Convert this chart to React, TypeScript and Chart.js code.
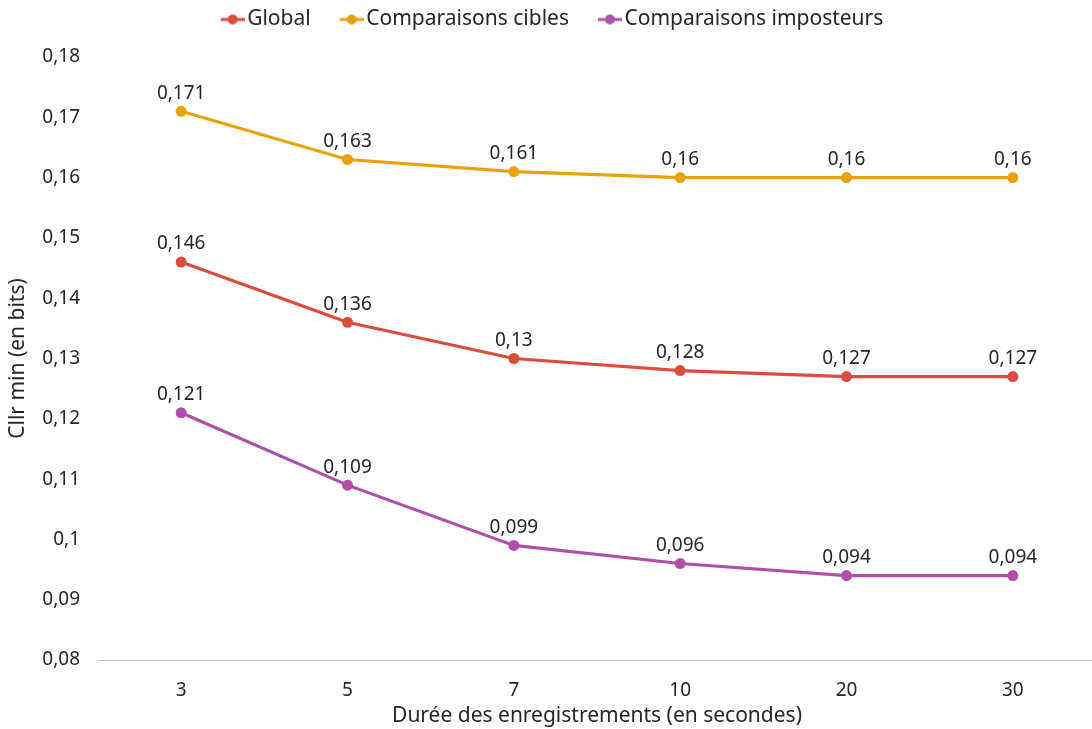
import React, { useEffect, useRef } from "react";
import { Chart, registerables } from "chart.js";

Chart.register(...registerables);

const categories = ["3", "5", "7", "10", "20", "30"];
const globalValues = [0.146, 0.136, 0.13, 0.128, 0.127, 0.127];
const ciblesValues = [0.171, 0.163, 0.161, 0.16, 0.16, 0.16];
const imposteursValues = [0.121, 0.109, 0.099, 0.096, 0.094, 0.094];
const seriesNames = ["Global", "Comparaisons cibles", "Comparaisons imposteurs"];
const seriesColors = ["#DD4B3C", "#E9A20C", "#B04FAA"];
const yTitle = "Cllr min (en bits)";
const xTitle = "Durée des enregistrements (en secondes)";

const FONT = "'Noto Sans', 'Open Sans', sans-serif";
const TEXT = "#262626";

const fmt = (v: number) => String(Number(v.toFixed(3))).replace(".", ",");

function makeMarker(color: string): HTMLCanvasElement {
  const c = document.createElement("canvas");
  c.width = 54;
  c.height = 14;
  const ctx = c.getContext("2d")!;
  ctx.strokeStyle = color;
  ctx.lineWidth = 3;
  ctx.beginPath();
  ctx.moveTo(30, 7);
  ctx.lineTo(54, 7);
  ctx.stroke();
  ctx.fillStyle = color;
  ctx.beginPath();
  ctx.arc(42, 7, 5, 0, Math.PI * 2);
  ctx.fill();
  return c;
}

const valueLabels = {
  id: "valueLabels",
  afterDatasetsDraw(chart: any) {
    const ctx = chart.ctx;
    ctx.save();
    ctx.font = `19px ${FONT}`;
    ctx.fillStyle = TEXT;
    ctx.textAlign = "center";
    ctx.textBaseline = "middle";
    chart.data.datasets.forEach((ds: any, i: number) => {
      const meta = chart.getDatasetMeta(i);
      meta.data.forEach((el: any, j: number) => {
        ctx.fillText(fmt(ds.data[j]), el.x, el.y - 18);
      });
    });
    ctx.restore();
  },
};

const legendSpace = {
  id: "legendSpace",
  beforeUpdate(chart: any) {
    const lg = chart.legend;
    if (lg && !lg._patched) {
      const orig = lg.fit.bind(lg);
      lg.fit = function () {
        orig();
        this.height += 17;
        if (this.lineWidths && this.lineWidths.length) this.lineWidths[0] += 14;
      };
      lg._patched = true;
    }
  },
};

export default function App() {
  const ref = useRef<HTMLCanvasElement>(null);
  useEffect(() => {
    const markers = seriesColors.map(makeMarker);
    const allValues = [globalValues, ciblesValues, imposteursValues];
    const chart = new Chart(ref.current!, {
      type: "line",
      data: {
        labels: categories,
        datasets: allValues.map((vals, i) => ({
          label: seriesNames[i],
          data: vals,
          borderColor: seriesColors[i],
          backgroundColor: seriesColors[i],
          pointBackgroundColor: seriesColors[i],
          pointBorderColor: seriesColors[i],
          pointStyle: "circle",
          pointRadius: 5.5,
          pointBorderWidth: 0,
          borderWidth: 3.2,
          tension: 0,
        })),
      },
      options: {
        responsive: false,
        animation: false,
        layout: { autoPadding: false, padding: { top: 2, left: 0, right: 0, bottom: 0 } },
        plugins: {
          tooltip: { enabled: false },
          legend: {
            position: "top",
            labels: {
              usePointStyle: true,
              pointStyleWidth: 38,
              padding: 7,
              color: TEXT,
              font: { family: FONT, size: 21 },
              generateLabels: () =>
                seriesNames.map((n, i) => ({
                  text: n,
                  fillStyle: seriesColors[i],
                  strokeStyle: seriesColors[i],
                  lineWidth: 0,
                  pointStyle: markers[i] as any,
                  datasetIndex: i,
                  hidden: false,
                  fontColor: TEXT,
                })),
            },
          },
        },
        scales: {
          x: {
            offset: true,
            grid: { display: false, drawTicks: false },
            border: { display: true, color: "#bfbfbf", width: 1 },
            ticks: { color: TEXT, padding: 19, font: { family: FONT, size: 19 } },
            title: {
              display: true,
              text: xTitle,
              color: TEXT,
              font: { family: FONT, size: 21 },
              padding: { top: 0, bottom: 0 },
            },
            afterFit: (axis: any) => {
              axis.height = 69;
              axis.paddingLeft = 0;
              axis.paddingRight = 0;
            },
          },
          y: {
            min: 0.08,
            max: 0.18,
            grid: { display: false, drawTicks: false },
            border: { display: false },
            ticks: {
              stepSize: 0.01,
              color: TEXT,
              padding: 18,
              font: { family: FONT, size: 19 },
              callback: (v: any) => fmt(Number(v)),
            },
            title: {
              display: true,
              text: yTitle,
              color: TEXT,
              font: { family: FONT, size: 21 },
              padding: { top: 5, bottom: 0 },
            },
            afterFit: (axis: any) => {
              axis.width = 98;
            },
          },
        },
      },
      plugins: [valueLabels, legendSpace],
    });
    return () => chart.destroy();
  }, []);
  return (
    <div
      style={{
        position: "absolute",
        left: 0,
        top: 0,
        width: 1092,
        height: 729,
        overflow: "hidden",
        background: "#fff",
      }}
    >
      <canvas ref={ref} width={1096} height={729} style={{ display: "block" }} />
    </div>
  );
}
